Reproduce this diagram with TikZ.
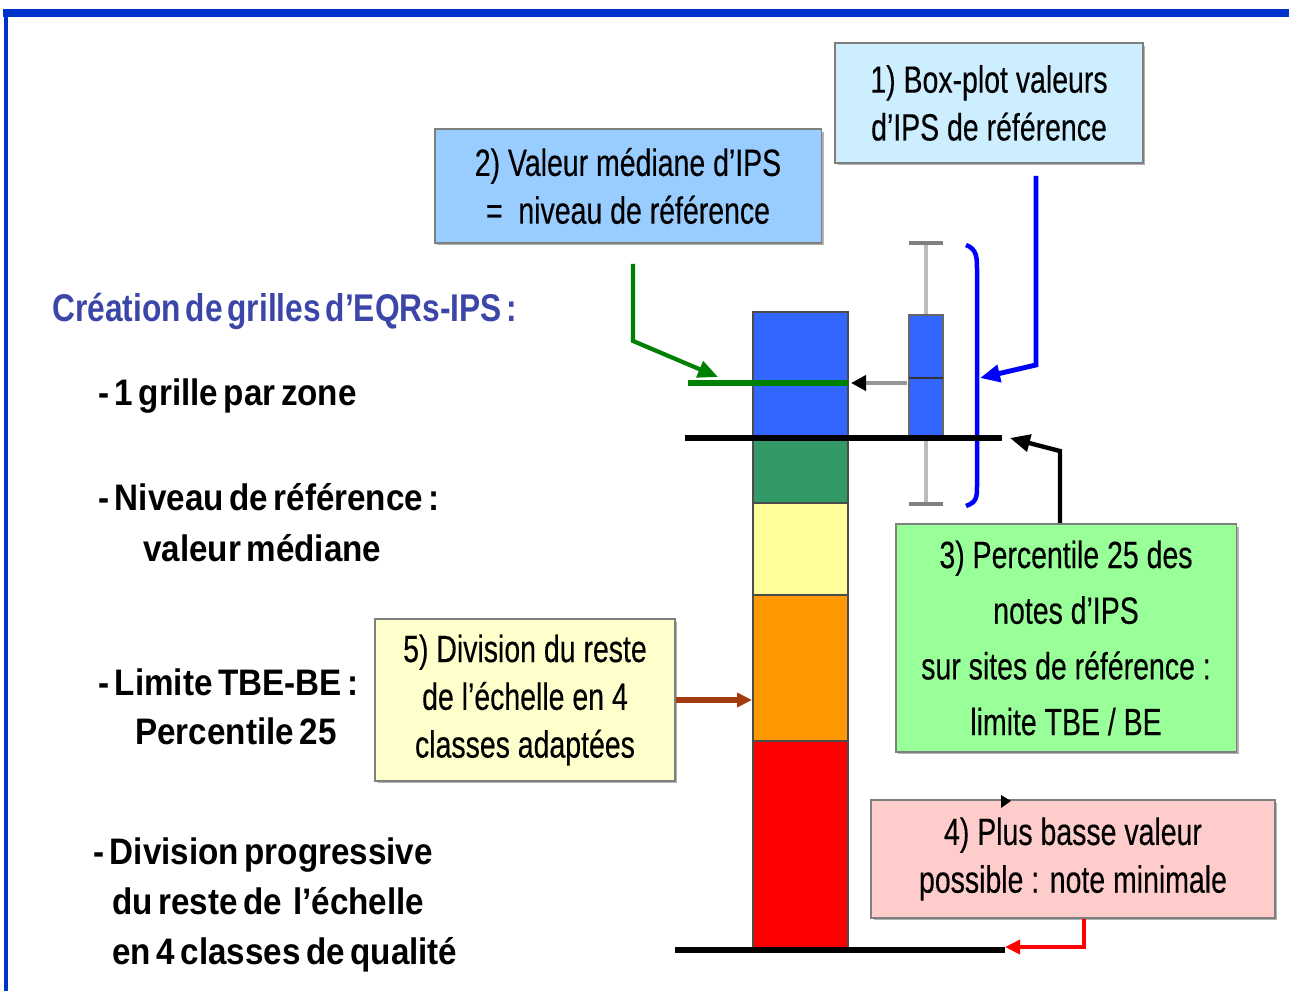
\documentclass[tikz,border=0pt]{standalone}
\usepackage{fontspec}
\setmainfont{Liberation Sans}[FakeStretch=0.75, FakeBold=0.3]
\newfontfamily\leftfont{Liberation Sans}[FakeStretch=0.9, WordSpace=0.6]
\newfontfamily\titlefont{Liberation Sans}[FakeStretch=0.82, WordSpace=0.55]
\usepackage{xcolor}
\usetikzlibrary{arrows.meta, positioning, calc, shadows}

\definecolor{frameblue}{HTML}{0033CC}
\definecolor{titleblue}{HTML}{3C46A8}
\definecolor{boxone}{HTML}{CCEEFF}
\definecolor{boxtwo}{HTML}{99CCFF}
\definecolor{boxthree}{HTML}{99FF99}
\definecolor{boxfour}{HTML}{FFCCCC}
\definecolor{boxfive}{HTML}{FFFFCC}
\definecolor{boxgray}{HTML}{7F7F7F}
\definecolor{barblue}{HTML}{3366FF}
\definecolor{bargreen}{HTML}{339966}
\definecolor{baryellow}{HTML}{FFFF99}
\definecolor{barorange}{HTML}{FF9900}
\definecolor{barred}{HTML}{FF0000}
\definecolor{medgreen}{HTML}{008000}
\definecolor{braceblue}{HTML}{0000FF}
\definecolor{arrowbrown}{HTML}{A33C0C}
\definecolor{whisker}{HTML}{BBBBBB}

\tikzset{
  box/.style={draw=boxgray, line width=1.1pt, inner sep=0pt, align=center,
    font=\fontsize{21.6}{27.2}\selectfont,
    drop shadow={shadow xshift=0.05cm, shadow yshift=-0.05cm, opacity=0.3, fill=black}},
  lefttext/.style={anchor=base west, inner sep=0pt, font=\leftfont\bfseries\fontsize{21}{27}\selectfont},
  bigtip/.style={-{Triangle[length=0.4cm, width=0.34cm]}},
  smalltip/.style={-{Triangle[length=0.3cm, width=0.28cm]}},
  barpart/.style={draw=black!70, line width=0.7pt},
}

\begin{document}
\begin{tikzpicture}[x=0.02cm, y=-0.02cm]
  \useasboundingbox (0,0) rectangle (1289,991);
  \clip (0,0) rectangle (1289,991);

  % frame
  \draw[frameblue, line width=0.16cm] (3,13) -- (1300,13);
  \draw[frameblue, line width=0.09cm] (6,10) -- (6,1000);

  % left texts
  \node[lefttext, text=titleblue, font=\titlefont\bfseries\fontsize{22}{27}\selectfont] (title) at (52,321) {Création de grilles d’EQRs-IPS :};
  \node[lefttext] (zone) at (98,405) {- 1 grille par zone};
  \node[lefttext] (niveau) at (98,510) {- Niveau de référence :};
  \node[lefttext] (valeur) at (143,561) {valeur médiane};
  \node[lefttext] (limite) at (98,695) {- Limite TBE-BE :};
  \node[lefttext] (pct) at (135,744) {Percentile 25};
  \node[lefttext] (division) at (93,864) {- Division progressive};
  \node[lefttext] (reste) at (112,914) {du reste de~ l’échelle};
  \node[lefttext] (classes) at (112,964) {en 4 classes de qualité};

  % boxes
  \node[box, fill=boxone, minimum width=6.16cm, minimum height=2.4cm] (plot) at (989,103) {1) Box-plot valeurs\\d’IPS de référence};
  \node[box, fill=boxtwo, minimum width=7.74cm, minimum height=2.28cm] (median) at (628,186) {2) Valeur médiane d’IPS\\= \ niveau de référence};
  \node[box, fill=boxthree, minimum width=6.82cm, minimum height=4.56cm, font=\fontsize{21.6}{31.7}\selectfont] (perc) at (1066,638) {3) Percentile 25 des\\notes d’IPS\\sur sites de référence :\\limite TBE / BE};
  \node[box, fill=boxfour, minimum width=8.08cm, minimum height=2.36cm] (lowest) at (1073,859) {4) Plus basse valeur\\possible : note minimale};
  \node[box, fill=boxfive, minimum width=6cm, minimum height=3.24cm] (rest) at (525,700) {5) Division du reste\\de l’échelle en 4\\classes adaptées};

  % grid bar
  \filldraw[barpart, fill=barblue] (753,312) rectangle (848,438);
  \filldraw[barpart, fill=bargreen] (753,438) rectangle (848,503);
  \filldraw[barpart, fill=baryellow] (753,503) rectangle (848,595);
  \filldraw[barpart, fill=barorange] (753,595) rectangle (848,741);
  \filldraw[barpart, fill=barred] (753,741) rectangle (848,948);

  % box-plot
  \draw[whisker, line width=1.8pt] (926,245) -- (926,315);
  \draw[whisker, line width=1.8pt] (926,438) -- (926,502);
  \draw[boxgray, line width=2.2pt] (909,243) -- (943,243);
  \draw[boxgray, line width=2.2pt] (909,504) -- (943,504);
  \filldraw[fill=barblue, draw=black!60, line width=1pt] (909,315) rectangle (943,438);
  \draw[black!80, line width=1.1pt] (909,378) -- (943,378);

  % brace
  \draw[braceblue, line width=0.09cm] (966,245) .. controls (977,249) and (977,258) .. (977,270)
    -- (977,485) .. controls (977,497) and (977,502) .. (966,506);

  % lines
  \draw[medgreen, line width=0.13cm] (688,383) -- (848,383);
  \draw[line width=0.11cm] (685,438) -- (1002,438);
  \draw[line width=0.11cm] (675,950) -- (1005,950);

  % arrow ends
  \coordinate (medend) at (718,377);
  \coordinate (barmed) at (851,383);
  \coordinate (bpmed) at (907,383);
  \coordinate (braceend) at (980,378);
  \coordinate (p25end) at (1010,438);
  \coordinate (lowend) at (1005,947);
  \coordinate (barleft) at (752,700);

  % median box to median line
  \draw[medgreen, line width=2.4pt, bigtip] ([xshift=0.1cm, yshift=-0.4cm]median.south) -- ++(0,77) -- (medend);
  % box-plot median to bar
  \draw[whisker!80!black, line width=2.2pt, -{Triangle[length=0.3cm, width=0.3cm, black]}] (bpmed) -- (barmed);
  % box-plot label to brace
  \draw[braceblue, line width=2.8pt, bigtip] ([xshift=0.94cm, yshift=-0.24cm]plot.south) -- ++(0,189) -- (braceend);
  % percentile label to limit
  \draw[line width=2.5pt, bigtip] ([xshift=-0.12cm]perc.north) -- ++(0,-72) -- (p25end);
  % lowest label to bottom line
  \draw[barred, line width=2.3pt, smalltip] ([xshift=0.22cm]lowest.south) |- (lowend);
  % division label to bar
  \draw[arrowbrown, line width=3pt, smalltip] (rest.east) -- (barleft);

  % small mark on box 4
  \fill (1001,795) -- (1011,801) -- (1001,808) -- cycle;
\end{tikzpicture}
\end{document}
